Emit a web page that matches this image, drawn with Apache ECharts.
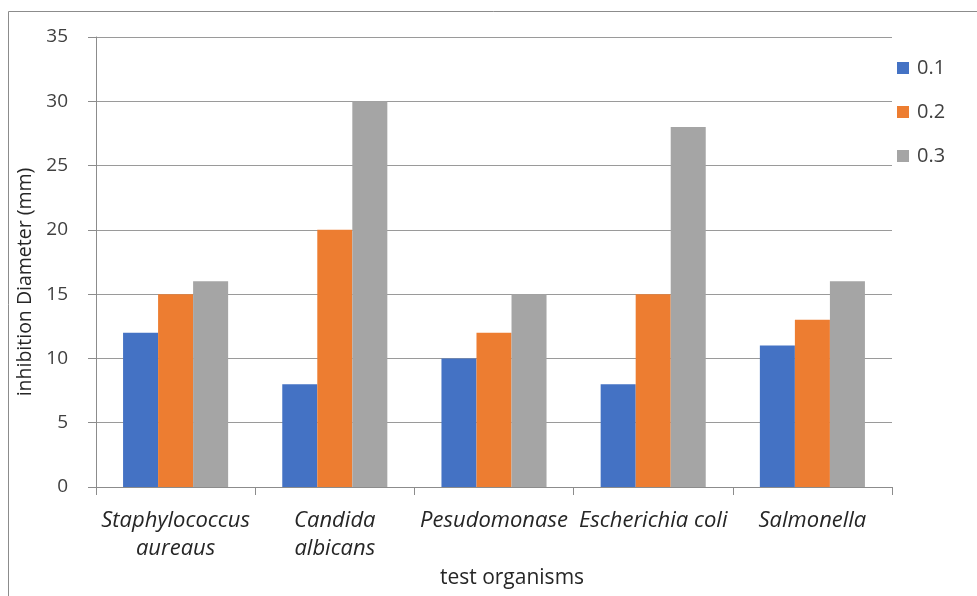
<!DOCTYPE html>
<html>
<head>
<meta charset="utf-8">
<script src="https://cdn.jsdelivr.net/npm/echarts@6/dist/echarts.min.js"></script>
<style>
  html, body { margin: 0; padding: 0; background: #fff; }
  #chart { width: 977px; height: 596px; }
</style>
</head>
<body>
<div id="chart"></div>
<script>
// Test organisms and inhibition diameters (mm) per concentration
const organisms = ['Staphylococcus\naureaus', 'Candida\nalbicans', 'Pesudomonase', 'Escherichia coli', 'Salmonella'];
const seriesNames = ['0.1', '0.2', '0.3'];
const conc01 = [12, 8, 10, 8, 11];
const conc02 = [15, 20, 12, 15, 13];
const conc03 = [16, 30, 15, 28, 16];
const yTicks = { min: 0, max: 35, interval: 5 };
const colors = ['#4472C4', '#ED7D31', '#A5A5A5'];

const font = '"Open Sans", "Noto Sans", sans-serif';
const chart = echarts.init(document.getElementById('chart'));

const values = [conc01, conc02, conc03];
chart.setOption({
  animation: false,
  color: colors,
  textStyle: { fontFamily: font },
  graphic: [{
    type: 'rect',
    shape: { x: 8.5, y: 11.5, width: 1000, height: 700 },
    style: { fill: null, stroke: '#8c8c8c', lineWidth: 1 },
    silent: true
  }],
  legend: {
    orient: 'vertical',
    left: 897,
    top: 58,
    padding: 0,
    itemWidth: 12,
    itemHeight: 12,
    itemGap: 24,
    icon: 'rect',
    textStyle: { fontSize: 20, color: '#404040', fontFamily: font, padding: [0, 0, 0, 3] },
    data: seriesNames
  },
  grid: { left: 96, right: 85, top: 37, bottom: 109, containLabel: false },
  xAxis: {
    type: 'category',
    data: organisms,
    name: 'test organisms',
    nameLocation: 'middle',
    nameGap: 76,
    nameTextStyle: { fontSize: 21, color: '#262626', fontFamily: font, padding: [0, 0, 0, 36] },
    axisLine: { lineStyle: { color: '#8c8c8c' } },
    axisTick: { show: true, length: 8, lineStyle: { color: '#8c8c8c' } },
    axisLabel: {
      interval: 0,
      margin: 20,
      fontSize: 22,
      fontStyle: 'italic',
      color: '#262626',
      lineHeight: 28,
      fontFamily: font
    }
  },
  yAxis: {
    type: 'value',
    min: yTicks.min,
    max: yTicks.max,
    interval: yTicks.interval,
    name: 'inhibition Diameter (mm)',
    nameLocation: 'middle',
    nameGap: 53,
    nameTextStyle: { fontSize: 19.5, color: '#262626', fontFamily: font, padding: [0, 40, 0, 0] },
    axisLine: { show: true, lineStyle: { color: '#8c8c8c' } },
    axisTick: { show: true, length: 8, lineStyle: { color: '#8c8c8c' } },
    axisLabel: { fontSize: 19, color: '#404040', margin: 28, fontFamily: font },
    splitLine: { lineStyle: { color: '#9a9a9a', width: 1 } }
  },
  series: seriesNames.map((name, i) => ({
    name: name,
    type: 'bar',
    data: values[i],
    barWidth: '22%',
    barGap: '0%',
    itemStyle: { color: colors[i] }
  }))
});
</script>
</body>
</html>
